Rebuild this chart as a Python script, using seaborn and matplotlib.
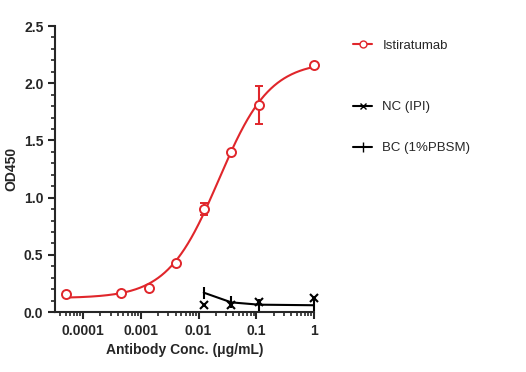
import numpy as np
import pandas as pd
import matplotlib
matplotlib.use("Agg")
import matplotlib.pyplot as plt
import matplotlib.ticker as mticker
from matplotlib.lines import Line2D
import seaborn as sns

# Istiratumab dose-response
conc = [5.08e-5, 4.57e-4, 1.37e-3, 4.12e-3, 1.23e-2, 3.70e-2, 1.11e-1, 1.0]
od = [0.16, 0.17, 0.21, 0.43, 0.90, 1.40, 1.81, 2.16]
od_err = [0.0, 0.0, 0.0, 0.0, 0.05, 0.0, 0.17, 0.0]

# controls
ctrl_conc = [1.23e-2, 3.70e-2, 1.11e-1, 1.0]
nc_od = [0.065, 0.065, 0.09, 0.12]
bc_od = [0.17, 0.085, 0.065, 0.06]

RED = "#e0262b"


def fit_4pl(x, y):
    # crude 4PL fit: grid over ec50/hill, linear least squares for bottom/top
    lx = np.log10(np.asarray(x))
    y = np.asarray(y)
    best = None
    for lec in np.linspace(-3, 0, 301):
        for h in np.linspace(0.5, 2.0, 151):
            s = 1.0 / (1.0 + 10 ** ((lec - lx) * h))
            A = np.column_stack([1 - s, s])
            coef, *_ = np.linalg.lstsq(A, y, rcond=None)
            r = np.sum((A @ coef - y) ** 2)
            if best is None or r < best[0]:
                best = (r, lec, h, coef)
    _, lec, h, (bot, top) = best
    return lambda xx: bot + (top - bot) / (1.0 + 10 ** ((lec - np.log10(xx)) * h))


sns.set_style("ticks")
plt.rcParams["font.family"] = ["Liberation Sans", "DejaVu Sans"]

fig = plt.figure(figsize=(5.26, 3.72), dpi=100)
ax = fig.add_axes([0.105, 0.161, 0.492, 0.769])

curve = fit_4pl(conc, od)
xs = np.logspace(np.log10(conc[0]), 0, 300)
fit_df = pd.DataFrame({"x": xs, "y": curve(xs)})
sns.lineplot(data=fit_df, x="x", y="y", color=RED, lw=1.5, ax=ax)

ax.errorbar(conc, od, yerr=od_err, fmt="o", mfc="white", mec=RED, ecolor=RED,
            ms=6.5, mew=1.4, capsize=3, elinewidth=1.5, capthick=1.5, clip_on=False, zorder=3)

bc_df = pd.DataFrame({"x": ctrl_conc, "y": bc_od})
sns.lineplot(data=bc_df, x="x", y="y", color="black", lw=1.5, ax=ax)
ax.plot(ctrl_conc, bc_od, ls="none", marker="|", color="black", ms=8, mew=1.5, clip_on=False)
ax.plot(ctrl_conc, nc_od, ls="none", marker="x", color="black", ms=6, mew=1.5, clip_on=False)

ax.set_xscale("log")
ax.set_xlim(3.3e-5, 1.0)
ax.set_ylim(0, 2.5)
ax.set_xticks([1e-4, 1e-3, 1e-2, 1e-1, 1])
ax.set_xticklabels(["0.0001", "0.001", "0.01", "0.1", "1"])
ax.xaxis.set_minor_locator(mticker.LogLocator(base=10, subs=np.arange(2, 10), numticks=20))
ax.xaxis.set_minor_formatter(mticker.NullFormatter())
ax.set_yticks([0, 0.5, 1.0, 1.5, 2.0, 2.5])
ax.yaxis.set_minor_locator(mticker.MultipleLocator(0.1))
ax.yaxis.set_major_formatter(mticker.FormatStrFormatter("%.1f"))

for lab in ax.get_xticklabels() + ax.get_yticklabels():
    lab.set_fontweight("bold")
    lab.set_fontsize(10)
ax.tick_params(axis="both", which="major", length=5, width=1.5, direction="out")
ax.tick_params(axis="both", which="minor", length=3, width=1.2, direction="out")
sns.despine(ax=ax)
for sp in ("left", "bottom"):
    ax.spines[sp].set_linewidth(1.5)

ax.set_xlabel("Antibody Conc. (μg/mL)", fontsize=10, fontweight="bold")
ax.set_ylabel("OD450", fontsize=10, fontweight="bold")

handles = [
    Line2D([], [], color=RED, marker="o", mfc="white", mec=RED, ms=5, lw=1.5),
    Line2D([], [], color="black", marker="x", ms=5, lw=1.5),
    Line2D([], [], color="black", marker="|", ms=7, lw=1.5),
]
labels = ["Istiratumab", "NC (IPI)", "BC (1%PBSM)"]
ys = [0.878, 0.712, 0.602]
for hnd, lbl, yy in zip(handles, labels, ys):
    fig.legend([hnd], [lbl], loc="center left", bbox_to_anchor=(0.672, yy), frameon=False,
               fontsize=9.5, handlelength=1.4, handletextpad=0.8, borderpad=0, borderaxespad=0)

fig.savefig("out.png", dpi=100)
